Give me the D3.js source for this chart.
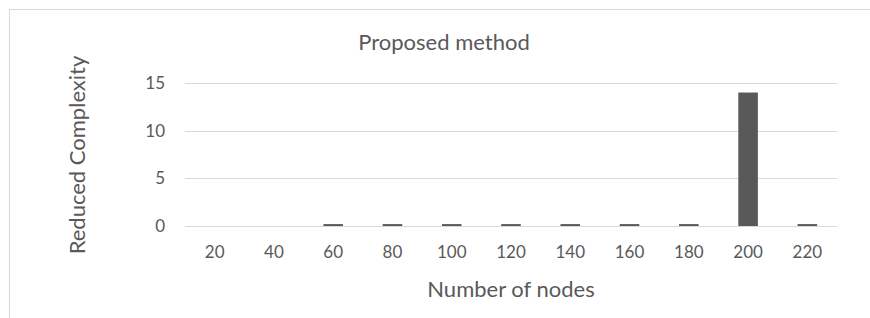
<!DOCTYPE html>
<html>
<head>
<meta charset="utf-8">
<script src="https://cdn.jsdelivr.net/npm/d3@7"></script>
<style>
  body { margin: 0; background: #fff; }
  text { font-family: Lato, "Open Sans", sans-serif; fill: #595959; }
</style>
</head>
<body>
<div id="chart"></div>
<script>
// chart data
const nodes = ["20", "40", "60", "80", "100", "120", "140", "160", "180", "200", "220"];
const complexity = [0, 0, 0.2, 0.2, 0.2, 0.2, 0.2, 0.2, 0.2, 14, 0.2];
const yTicks = [0, 5, 10, 15];

const drawChart = () => {
  const width = 870;
  const height = 318;

  const svg = d3.select("#chart")
                .append("svg")
                .attr("width", width)
                .attr("height", height);

  // chart area border
  svg.append("rect")
     .attr("x", 9.5)
     .attr("y", 9.5)
     .attr("width", width)
     .attr("height", height)
     .attr("fill", "none")
     .attr("stroke", "#d9d9d9");

  const xScale = d3.scaleBand()
                   .domain(nodes)
                   .range([185, 837])
                   .paddingInner(0.67)
                   .paddingOuter(0.335);

  const yScale = d3.scaleLinear()
                   .domain([0, 15])
                   .range([226, 83]);

  // gridlines
  svg.selectAll("line.grid")
     .data(yTicks)
     .enter()
     .append("line")
     .attr("class", "grid")
     .attr("x1", 185)
     .attr("x2", 837)
     .attr("y1", (d) => Math.round(yScale(d)) + 0.5)
     .attr("y2", (d) => Math.round(yScale(d)) + 0.5)
     .attr("stroke", "#d9d9d9")
     .attr("stroke-width", 1);

  // bars
  svg.selectAll("rect.bar")
     .data(nodes)
     .enter()
     .append("rect")
     .attr("class", "bar")
     .attr("x", (d) => xScale(d))
     .attr("width", xScale.bandwidth())
     .attr("y", (d, i) => yScale(complexity[i]))
     .attr("height", (d, i) => yScale(0) - yScale(complexity[i]))
     .attr("fill", "#595959");

  // y tick labels
  svg.selectAll("text.ytick")
     .data(yTicks)
     .enter()
     .append("text")
     .attr("class", "ytick")
     .attr("x", 165)
     .attr("y", (d) => yScale(d))
     .attr("dy", "0.35em")
     .attr("text-anchor", "end")
     .style("font-size", "17px")
     .text((d) => d);

  // x tick labels
  svg.selectAll("text.xtick")
     .data(nodes)
     .enter()
     .append("text")
     .attr("class", "xtick")
     .attr("x", (d) => xScale(d) + xScale.bandwidth() / 2)
     .attr("y", 252)
     .attr("dy", "0.35em")
     .attr("text-anchor", "middle")
     .style("font-size", "17px")
     .text((d) => d);

  // titles
  svg.append("text")
     .attr("x", 444)
     .attr("y", 42)
     .attr("dy", "0.35em")
     .attr("text-anchor", "middle")
     .style("font-size", "22px")
     .text("Proposed method");

  svg.append("text")
     .attr("x", 511)
     .attr("y", 289)
     .attr("dy", "0.35em")
     .attr("text-anchor", "middle")
     .style("font-size", "22px")
     .text("Number of nodes");

  svg.append("text")
     .attr("transform", "translate(77,155) rotate(-90)")
     .attr("dy", "0.35em")
     .attr("text-anchor", "middle")
     .style("font-size", "22px")
     .text("Reduced Complexity");
}

drawChart();
</script>
</body>
</html>
